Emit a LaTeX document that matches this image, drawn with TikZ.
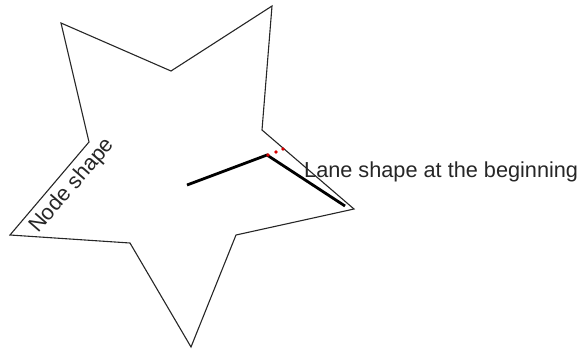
\documentclass[tikz,border=0pt]{standalone}
\usepackage{fontspec}
\setmainfont{Liberation Sans}
\begin{document}
\begin{tikzpicture}[x=1pt,y=-1pt,
  starline/.style={draw=black!85,line width=1.1pt,line join=miter},
  laneline/.style={draw=black,line width=2.8pt},
  reddot/.style={fill=red!85!black},
  lbl/.style={inner sep=0pt,font=\fontsize{21.7}{25}\selectfont,text=black!85}]
\useasboundingbox (0,0) rectangle (580,349);
\coordinate (s1) at (272,6);
\coordinate (s2) at (262,130);
\coordinate (s3) at (354,209);
\coordinate (s4) at (236,235);
\coordinate (s5) at (191,347);
\coordinate (s6) at (130,243);
\coordinate (s7) at (10,235);
\coordinate (s8) at (89,142);
\coordinate (s9) at (61,23);
\coordinate (s10) at (171,71);
\draw[starline] (s1) -- (s2) -- (s3) -- (s4) -- (s5) -- (s6) -- (s7) -- (s8) -- (s9) -- (s10) -- cycle;
\coordinate (l1) at (187,185);
\coordinate (l2) at (267,155);
\coordinate (l3) at (345,206);
\draw[laneline] (l1) -- (l2) -- (l3);
\fill[reddot] (268,155) circle (1.8);
\fill[reddot] (276,152) circle (1.8);
\fill[reddot] (283,149) circle (1.8);
\node[lbl,anchor=base west] (lane) at (304,177) {Lane shape at the beginning};
\node[lbl,anchor=base west,rotate=49] (nodeshape) at (38,234) {Node shape};
\end{tikzpicture}
\end{document}
